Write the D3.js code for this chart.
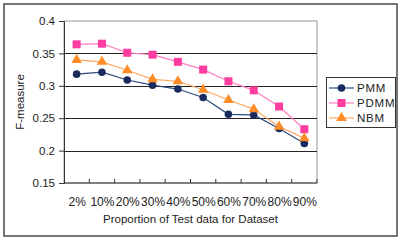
<!DOCTYPE html>
<html lang="en">
<head>
    <meta charset="UTF-8">
    <title>F-measure chart</title>
    <script src="https://d3js.org/d3.v7.min.js"></script>
    <style>
        body { margin: 0; background: #fff; }
        svg { display: block; font-family: "Liberation Sans", Arial, sans-serif; }
    </style>
</head>
<body>
    <div id="chart"></div>

    <script>
        // Data
        const categories = ["2%", "10%", "20%", "30%", "40%", "50%", "60%", "70%", "80%", "90%"];
        const pmm  = [0.318, 0.321, 0.309, 0.301, 0.295, 0.282, 0.256, 0.255, 0.234, 0.211];
        const pdmm = [0.364, 0.365, 0.351, 0.348, 0.337, 0.325, 0.307, 0.293, 0.268, 0.233];
        const nbm  = [0.340, 0.337, 0.324, 0.310, 0.307, 0.294, 0.278, 0.264, 0.237, 0.219];
        const yTicks = [0.15, 0.2, 0.25, 0.3, 0.35, 0.4];

        const series = [
            { name: "PMM",  values: pmm,  line: "#2b4a7e", fill: "#1b2b5e", shape: "circle" },
            { name: "PDMM", values: pdmm, line: "#ff7fbf", fill: "#ff3ca0", shape: "square" },
            { name: "NBM",  values: nbm,  line: "#ffa860", fill: "#ff8c26", shape: "triangle" }
        ];

        const width = 406, height = 246;
        const margin = { left: 64, right: 89, top: 21, bottom: 63 };

        const svg = d3.select("#chart").append("svg")
            .attr("width", width)
            .attr("height", height);

        // outer frame
        svg.append("rect")
            .attr("x", 4).attr("y", 4)
            .attr("width", 393).attr("height", 232)
            .attr("fill", "#fff")
            .attr("stroke", "#4a4a4a")
            .attr("stroke-width", 1.5);

        const x = d3.scaleBand()
            .domain(categories)
            .range([margin.left, width - margin.right]);

        const y = d3.scaleLinear()
            .domain([0.15, 0.4])
            .range([height - margin.bottom, margin.top]);

        // plot area border (top/right gray)
        svg.append("rect")
            .attr("x", margin.left).attr("y", margin.top)
            .attr("width", width - margin.left - margin.right)
            .attr("height", height - margin.top - margin.bottom)
            .attr("fill", "none")
            .attr("stroke", "#9a9a9a");

        // gridlines
        svg.append("g")
            .selectAll("line")
            .data(yTicks.slice(1, -1))
            .join("line")
            .attr("x1", margin.left).attr("x2", width - margin.right)
            .attr("y1", d => Math.round(y(d)) + 0.5)
            .attr("y2", d => Math.round(y(d)) + 0.5)
            .attr("stroke", "#222");

        // y axis
        const yAxis = svg.append("g")
            .attr("transform", `translate(${margin.left},0)`)
            .call(d3.axisLeft(y).tickValues(yTicks).tickSize(5).tickPadding(4).tickFormat(d3.format("")));
        yAxis.select(".domain").attr("stroke", "#333");
        yAxis.selectAll(".tick line").attr("stroke", "#333");
        yAxis.selectAll("text").attr("font-size", 11.5).attr("fill", "#222");

        // x axis: ticks at band boundaries pointing inward
        const xAxisG = svg.append("g")
            .attr("transform", `translate(0,${height - margin.bottom})`);
        xAxisG.append("line")
            .attr("x1", margin.left).attr("x2", width - margin.right)
            .attr("stroke", "#333");
        xAxisG.selectAll(".xt")
            .data(categories)
            .join("line")
            .attr("class", "xt")
            .attr("x1", d => x(d) + x.bandwidth())
            .attr("x2", d => x(d) + x.bandwidth())
            .attr("y1", 0).attr("y2", -4)
            .attr("stroke", "#333");
        xAxisG.selectAll("text")
            .data(categories)
            .join("text")
            .attr("x", d => x(d) + x.bandwidth() / 2 + 0.5)
            .attr("y", 23)
            .attr("text-anchor", "middle")
            .attr("font-size", 12)
            .attr("fill", "#222")
            .text(d => d);

        // axis titles
        svg.append("text")
            .attr("x", (margin.left + width - margin.right) / 2)
            .attr("y", 223)
            .attr("text-anchor", "middle")
            .attr("font-size", 11.5)
            .attr("fill", "#222")
            .text("Proportion of Test data for Dataset");

        svg.append("text")
            .attr("transform", `translate(24,${(margin.top + height - margin.bottom) / 2}) rotate(-90)`)
            .attr("text-anchor", "middle")
            .attr("font-size", 11.5)
            .attr("fill", "#222")
            .text("F-measure");

        const cx = d => x(d) + x.bandwidth() / 2;

        function marker(g, shape, fill) {
            if (shape === "circle") {
                g.append("circle").attr("r", 3.8).attr("fill", fill);
            } else if (shape === "square") {
                g.append("rect").attr("x", -4).attr("y", -4).attr("width", 8).attr("height", 8).attr("fill", fill);
            } else {
                g.append("path").attr("d", d3.symbol().type(d3.symbolTriangle).size(48)()).attr("fill", fill);
            }
        }

        // lines then markers
        const line = d3.line()
            .x((d, i) => cx(categories[i]))
            .y(d => y(d));

        series.forEach(s => {
            svg.append("path")
                .datum(s.values)
                .attr("d", line)
                .attr("fill", "none")
                .attr("stroke", s.line)
                .attr("stroke-width", 1.2);
        });

        series.forEach(s => {
            s.values.forEach((v, i) => {
                const g = svg.append("g")
                    .attr("transform", `translate(${cx(categories[i])},${y(v)})`);
                marker(g, s.shape, s.fill);
            });
        });

        // legend
        const legend = svg.append("g");
        legend.append("rect")
            .attr("x", 326.5).attr("y", 77.5)
            .attr("width", 69).attr("height", 50)
            .attr("fill", "#fff")
            .attr("stroke", "#333");

        series.forEach((s, i) => {
            const ly = 88 + i * 15;
            legend.append("line")
                .attr("x1", 329).attr("x2", 354)
                .attr("y1", ly).attr("y2", ly)
                .attr("stroke", s.line)
                .attr("stroke-width", 1.2);
            const g = legend.append("g").attr("transform", `translate(341.5,${ly})`);
            marker(g, s.shape, s.fill);
            legend.append("text")
                .attr("x", 357).attr("y", ly + 4)
                .attr("font-size", 11.5)
                .attr("letter-spacing", 0.8)
                .attr("fill", "#222")
                .text(s.name);
        });
    </script>
</body>
</html>
